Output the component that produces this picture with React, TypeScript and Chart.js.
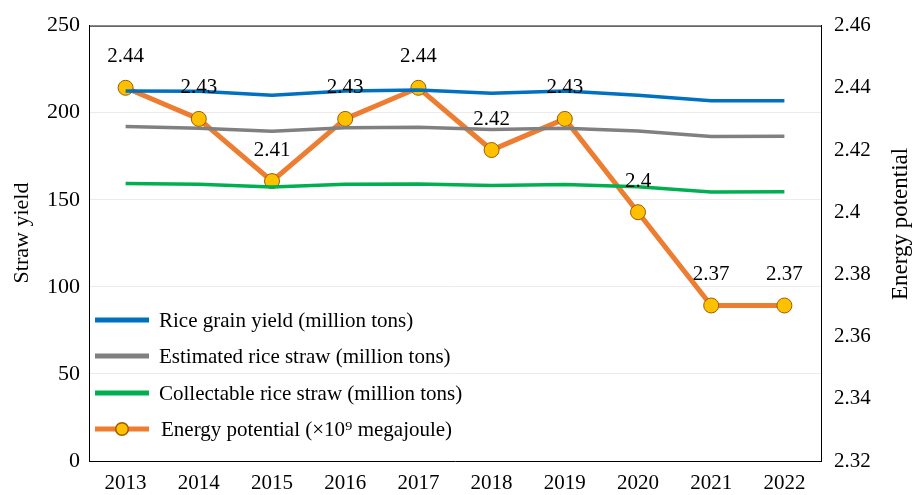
import React, { useEffect, useRef } from "react";
import { Chart, registerables } from "chart.js";

Chart.register(...registerables);

const years = ["2013", "2014", "2015", "2016", "2017", "2018", "2019", "2020", "2021", "2022"];
const riceGrain = [212.5, 212.3, 210.0, 212.5, 213.0, 211.2, 212.4, 210.0, 206.8, 206.9];
const estimatedStraw = [192.0, 191.0, 189.3, 191.4, 191.7, 190.3, 191.1, 189.5, 186.3, 186.4];
const collectableStraw = [159.4, 158.9, 157.3, 158.9, 159.1, 158.2, 158.8, 157.5, 154.5, 154.6];
const energyPotential = [2.44, 2.43, 2.41, 2.43, 2.44, 2.42, 2.43, 2.4, 2.37, 2.37];

const leftTicks = { min: 0, max: 250, step: 50 };
const rightTicks = { min: 2.32, max: 2.46, step: 0.02 };

const FONT = "'Liberation Serif', 'Times New Roman', serif";

const overlayPlugin = {
  id: "overlay",
  afterDatasetsDraw(chart: any) {
    const ctx = chart.ctx;
    const area = chart.chartArea;
    ctx.save();
    // Data labels for energy potential
    const meta = chart.getDatasetMeta(3);
    ctx.font = `21px ${FONT}`;
    ctx.fillStyle = "#000";
    ctx.textAlign = "center";
    ctx.textBaseline = "middle";
    meta.data.forEach((pt: any, i: number) => {
      ctx.fillText(String(energyPotential[i]), pt.x, pt.y - 31);
    });

    // Axis titles
    ctx.font = `22px ${FONT}`;
    ctx.save();
    ctx.translate(22, 233);
    ctx.rotate(-Math.PI / 2);
    ctx.fillText("Straw yield", 0, 0);
    ctx.restore();
    ctx.font = `23px ${FONT}`;
    ctx.save();
    ctx.translate(901, 224);
    ctx.rotate(-Math.PI / 2);
    ctx.fillText("Energy potential", 0, 0);
    ctx.restore();

    // Legend
    const rows = [141, 105, 68, 32];
    ctx.font = `21px ${FONT}`;
    ctx.textAlign = "left";
    chart.data.datasets.forEach((ds: any, i: number) => {
      const y = area.bottom - rows[i];
      const x0 = area.left + 6;
      const x1 = area.left + 60;
      ctx.strokeStyle = ds.borderColor;
      ctx.lineWidth = 5;
      ctx.beginPath();
      ctx.moveTo(x0, y);
      ctx.lineTo(x1, y);
      ctx.stroke();
      if (i === 3) {
        ctx.beginPath();
        ctx.arc((x0 + x1) / 2, y, 6.3, 0, Math.PI * 2);
        ctx.fillStyle = ds.pointBackgroundColor;
        ctx.fill();
        ctx.lineWidth = 1.5;
        ctx.strokeStyle = ds.pointBorderColor;
        ctx.stroke();
      }
      ctx.fillStyle = "#000";
      ctx.fillText(ds.label, area.left + (i === 3 ? 72 : 70), y + 1);
    });
    ctx.restore();
  },
};

export default function App() {
  const canvasRef = useRef<HTMLCanvasElement | null>(null);
  useEffect(() => {
    document.body.style.margin = "0";
    const canvas = canvasRef.current;
    if (!canvas) return;
    const chart = new Chart(canvas, {
      type: "line",
      data: {
        labels: years,
        datasets: [
          {
            label: "Rice grain yield (million tons)",
            data: riceGrain,
            borderColor: "#0070C0",
            backgroundColor: "#0070C0",
            borderWidth: 3.5,
            pointRadius: 0,
            yAxisID: "y",
          },
          {
            label: "Estimated rice straw (million tons)",
            data: estimatedStraw,
            borderColor: "#808080",
            backgroundColor: "#808080",
            borderWidth: 3.5,
            pointRadius: 0,
            yAxisID: "y",
          },
          {
            label: "Collectable rice straw (million tons)",
            data: collectableStraw,
            borderColor: "#00B050",
            backgroundColor: "#00B050",
            borderWidth: 3.5,
            pointRadius: 0,
            yAxisID: "y",
          },
          {
            label: "Energy potential (×10⁹ megajoule)",
            data: energyPotential,
            borderColor: "#ED7D31",
            backgroundColor: "#ED7D31",
            borderWidth: 5,
            pointRadius: 7.5,
            pointBackgroundColor: "#FFC000",
            pointBorderColor: "#9C5B00",
            pointBorderWidth: 1,
            yAxisID: "y1",
          },
        ],
      },
      options: {
        animation: false,
        responsive: false,
        maintainAspectRatio: false,
        layout: { padding: { top: 23, left: 0, right: 0, bottom: 0 } },
        plugins: {
          legend: { display: false },
          tooltip: { enabled: false },
          title: { display: false },
        },
        scales: {
          x: {
            offset: true,
            grid: { display: false, drawTicks: false },
            border: { display: true, color: "#000", width: 1 },
            ticks: { color: "#000", font: { family: FONT, size: 21 }, padding: 10, maxRotation: 0 },
            afterFit(scale: any) {
              scale.height = 34;
            },
          },
          y: {
            position: "left",
            min: leftTicks.min,
            max: leftTicks.max,
            grid: { color: "#ebebeb", drawTicks: false, lineWidth: 1 },
            border: { display: true, color: "#000", width: 1 },
            ticks: { stepSize: leftTicks.step, color: "#000", font: { family: FONT, size: 22 }, padding: 9 },
            afterFit(scale: any) {
              scale.width = 89;
            },
          },
          y1: {
            position: "right",
            min: rightTicks.min,
            max: rightTicks.max,
            grid: { display: false, drawTicks: false },
            border: { display: true, color: "#000", width: 1 },
            ticks: {
              stepSize: rightTicks.step,
              color: "#000",
              font: { family: FONT, size: 21 },
              padding: 13,
              callback: (v: any) => String(Math.round(Number(v) * 100) / 100),
            },
            afterFit(scale: any) {
              scale.width = 93;
            },
          },
        },
      },
      plugins: [
        overlayPlugin,
        {
          id: "topBorder",
          afterDraw(chart: any) {
            const { ctx, chartArea } = chart;
            ctx.save();
            ctx.strokeStyle = "#000";
            ctx.lineWidth = 1;
            ctx.beginPath();
            ctx.moveTo(chartArea.left, chartArea.top + 0.5);
            ctx.lineTo(chartArea.right, chartArea.top + 0.5);
            ctx.stroke();
            ctx.restore();
          },
        },
      ],
    } as any);
    return () => chart.destroy();
  }, []);
  return (
    <div style={{ width: 914, height: 495, background: "#fff" }}>
      <canvas ref={canvasRef} width={914} height={495} style={{ display: "block" }} />
    </div>
  );
}
